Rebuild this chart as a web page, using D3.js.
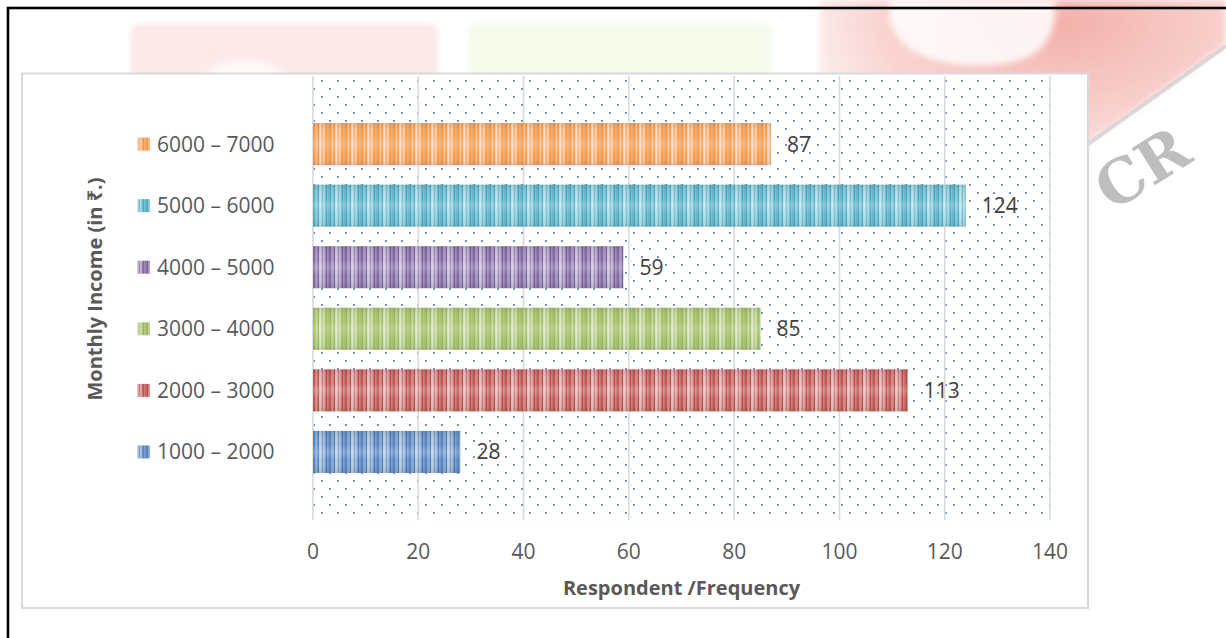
<!DOCTYPE html>
<html>
<head>
<meta charset="utf-8">
<script src="https://cdn.jsdelivr.net/npm/d3@7/dist/d3.min.js"></script>
<style>
  html, body { margin: 0; padding: 0; background: #fff; }
  svg { display: block; font-family: "Open Sans", "Noto Sans", "DejaVu Sans", sans-serif; }
</style>
</head>
<body>
<svg id="chart" width="1226" height="638"></svg>
<script>
// Monthly income bands (bottom to top) and number of respondents in each
const categories = ["1000 – 2000", "2000 – 3000", "3000 – 4000", "4000 – 5000", "5000 – 6000", "6000 – 7000"];
const respondents = [28, 113, 85, 59, 124, 87];
const barColors = ["#4F81BD", "#C0504D", "#9BBB59", "#8064A2", "#4BACC6", "#F79646"];
const xTickValues = [0, 20, 40, 60, 80, 100, 120, 140];
const xTitle = "Respondent /Frequency";
const yTitle = "Monthly Income (in ₹.)";

const svg = d3.select("#chart");
const defs = svg.append("defs");

// ---- faint letterhead artwork behind the chart ----
const bg = svg.append("g").attr("class", "backdrop");
defs.append("filter").attr("id", "soft").attr("x", "-20%").attr("y", "-20%").attr("width", "140%").attr("height", "140%")
  .append("feGaussianBlur").attr("stdDeviation", 3);
const redGrad = defs.append("radialGradient").attr("id", "redGlow")
  .attr("cx", 0.6).attr("cy", 0.1).attr("r", 0.75);
redGrad.append("stop").attr("offset", "0%").attr("stop-color", "#f09c96").attr("stop-opacity", 0.8);
redGrad.append("stop").attr("offset", "60%").attr("stop-color", "#f4b0aa").attr("stop-opacity", 0.55);
redGrad.append("stop").attr("offset", "100%").attr("stop-color", "#fbe0dc").attr("stop-opacity", 0.3);

bg.append("rect").attr("x", 133).attr("y", 26).attr("width", 303).attr("height", 120).attr("rx", 6)
  .attr("fill", "#fde9e9").attr("stroke", "#f8dada").attr("stroke-width", 2).attr("filter", "url(#soft)");
bg.append("ellipse").attr("cx", 245).attr("cy", 80).attr("rx", 40).attr("ry", 20)
  .attr("fill", "#fff").attr("opacity", 0.7).attr("filter", "url(#soft)");
bg.append("rect").attr("x", 470).attr("y", 26).attr("width", 300).attr("height", 120).attr("rx", 6)
  .attr("fill", "#f5fcec").attr("stroke", "#ecf7e2").attr("stroke-width", 2).attr("filter", "url(#soft)");
bg.append("path")
  .attr("d", "M820,0 L1226,0 L1226,45 L1090,142 L1040,230 L820,230 Z")
  .attr("fill", "url(#redGlow)").attr("filter", "url(#soft)");
bg.append("path")
  .attr("d", "M890,0 L1055,0 C1058,25 1048,52 1020,60 C985,70 940,66 915,52 C895,40 886,22 890,0 Z")
  .attr("fill", "#fff").attr("opacity", 0.85).attr("filter", "url(#soft)");
bg.append("line").attr("x1", 1088).attr("y1", 144).attr("x2", 1226).attr("y2", 46)
  .attr("stroke", "#cfcfcf").attr("stroke-width", 4).attr("opacity", 0.7);
bg.append("text").attr("x", 1112).attr("y", 212).attr("transform", "rotate(-32,1112,212)")
  .attr("font-family", "DejaVu Serif, serif").attr("font-weight", "bold").attr("font-size", 60)
  .attr("fill", "#b3b3b3").attr("opacity", 0.85).text("CR");

// outer page frame
svg.append("rect").attr("x", 8).attr("y", 8).attr("width", 1240).attr("height", 660)
  .attr("fill", "none").attr("stroke", "#000").attr("stroke-width", 2.6);

// chart area box
svg.append("rect").attr("x", 22).attr("y", 73.5).attr("width", 1066).attr("height", 534.5)
  .attr("fill", "#fff").attr("stroke", "#d9d9d9").attr("stroke-width", 2);

// ---- scales ----
const plot = { left: 313, right: 1050, top: 76, bottom: 520 };
const x = d3.scaleLinear().domain([0, 140]).range([plot.left, plot.right]);
const y = d3.scaleBand().domain(categories.slice().reverse())
  .range([plot.top, plot.bottom]).paddingInner(0.317).paddingOuter(0.764);

// dotted plot-area fill
const dots = defs.append("pattern").attr("id", "dotGrid").attr("patternUnits", "userSpaceOnUse")
  .attr("x", 1).attr("y", 0).attr("width", 16).attr("height", 16);
dots.append("rect").attr("x", 0).attr("y", 0).attr("width", 2).attr("height", 2).attr("fill", "#5a8ad0").attr("opacity", 0.9);
dots.append("rect").attr("x", 8).attr("y", 8).attr("width", 2).attr("height", 2).attr("fill", "#5a8ad0").attr("opacity", 0.9);
svg.append("rect").attr("x", plot.left).attr("y", plot.top)
  .attr("width", plot.right - plot.left).attr("height", plot.bottom - plot.top)
  .attr("fill", "url(#dotGrid)");

// vertical gridlines
svg.append("g").selectAll("line").data(xTickValues).join("line")
  .attr("x1", d => x(d)).attr("x2", d => x(d))
  .attr("y1", plot.top).attr("y2", plot.bottom)
  .attr("stroke", "#d9d9d9").attr("stroke-width", 1.6);

// striped bar fills, one per colour
function mix(c, t) { return d3.interpolateRgb(c, "#ffffff")(t); }
barColors.forEach((c, i) => {
  const g = defs.append("linearGradient").attr("id", "glow" + i)
    .attr("x1", 0).attr("x2", 1).attr("y1", 0).attr("y2", 0);
  g.append("stop").attr("offset", "0%").attr("stop-color", mix(c, 0.12));
  g.append("stop").attr("offset", "50%").attr("stop-color", mix(c, 0.7));
  g.append("stop").attr("offset", "100%").attr("stop-color", mix(c, 0.12));
  const p = defs.append("pattern").attr("id", "stripe" + i).attr("patternUnits", "userSpaceOnUse")
    .attr("x", plot.left).attr("y", 0).attr("width", 16).attr("height", 640);
  p.append("rect").attr("width", 16).attr("height", 640).attr("fill", `url(#glow${i})`);
  [0, 4, 8, 12].forEach(o => p.append("rect").attr("x", o + 0.5).attr("width", 1.5).attr("height", 640)
    .attr("fill", c).attr("opacity", o === 8 ? 0.6 : 1));
});
const shade = defs.append("linearGradient").attr("id", "shade").attr("x1", 0).attr("x2", 0).attr("y1", 0).attr("y2", 1);
shade.append("stop").attr("offset", "0%").attr("stop-color", "#000").attr("stop-opacity", 0.1);
shade.append("stop").attr("offset", "30%").attr("stop-color", "#fff").attr("stop-opacity", 0.0);
shade.append("stop").attr("offset", "50%").attr("stop-color", "#fff").attr("stop-opacity", 0.2);
shade.append("stop").attr("offset", "70%").attr("stop-color", "#fff").attr("stop-opacity", 0.0);
shade.append("stop").attr("offset", "100%").attr("stop-color", "#000").attr("stop-opacity", 0.1);

const rows = categories.map((cat, i) => ({ cat, value: respondents[i], i }));

const bars = svg.append("g").selectAll("g").data(rows).join("g");
bars.append("rect")
  .attr("x", x(0)).attr("y", d => y(d.cat))
  .attr("width", d => x(d.value) - x(0)).attr("height", y.bandwidth())
  .attr("fill", d => `url(#stripe${d.i})`);
bars.append("rect")
  .attr("x", x(0)).attr("y", d => y(d.cat))
  .attr("width", d => x(d.value) - x(0)).attr("height", y.bandwidth())
  .attr("fill", "url(#shade)");

// value labels
svg.append("g").selectAll("text").data(rows).join("text")
  .attr("x", d => x(d.value) + 16).attr("y", d => y(d.cat) + y.bandwidth() / 2)
  .attr("dy", "0.36em").attr("font-size", 21).attr("fill", "#404040")
  .text(d => d.value);

// x axis tick labels
svg.append("g").selectAll("text").data(xTickValues).join("text")
  .attr("x", d => x(d)).attr("y", 551).attr("dy", "0.36em")
  .attr("text-anchor", "middle").attr("font-size", 21).attr("fill", "#595959")
  .text(d => d);

// category legend down the left side
const legend = svg.append("g").selectAll("g").data(rows).join("g")
  .attr("transform", d => `translate(137,${y(d.cat) + y.bandwidth() / 2})`);
legend.append("rect").attr("x", 0).attr("y", -6.5).attr("width", 13).attr("height", 13)
  .attr("fill", d => `url(#stripe${d.i})`);
legend.append("text").attr("x", 20).attr("dy", "0.36em")
  .attr("font-size", 21).attr("fill", "#595959").text(d => d.cat);

// axis titles
svg.append("text").attr("x", (plot.left + plot.right) / 2).attr("y", 588).attr("dy", "0.36em")
  .attr("text-anchor", "middle").attr("font-size", 20).attr("font-weight", "bold").attr("fill", "#595959")
  .text(xTitle);
svg.append("text").attr("transform", "translate(95,289) rotate(-90)").attr("dy", "0.36em")
  .attr("text-anchor", "middle").attr("font-size", 20).attr("font-weight", "bold").attr("fill", "#595959")
  .text(yTitle);
</script>
</body>
</html>
